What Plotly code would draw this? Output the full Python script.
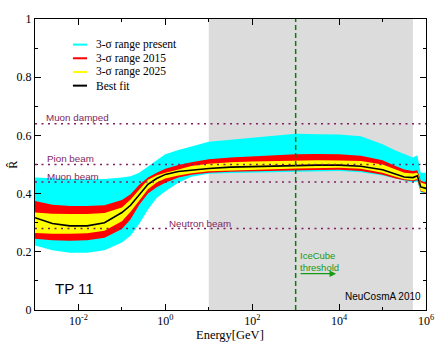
import numpy as np
import plotly.graph_objects as go

# ---- data ------------------------------------------------------------------
LOG_E = [-3, -2.6, -2.2, -1.8, -1.4, -1.0, -0.8, -0.6, -0.4, -0.2, 0, 0.3, 0.6,
         1.0, 1.5, 2, 2.5, 3, 3.5, 4, 4.5, 5, 5.3, 5.5, 5.7, 5.8, 5.88, 6]

CYAN_HI = [0.455, 0.452, 0.450, 0.449, 0.450, 0.455, 0.460, 0.472, 0.495, 0.515,
           0.535, 0.550, 0.562, 0.578, 0.585, 0.592, 0.600, 0.606, 0.604, 0.603,
           0.597, 0.570, 0.548, 0.535, 0.524, 0.532, 0.472, 0.472]
CYAN_LO = [0.222, 0.205, 0.197, 0.197, 0.205, 0.232, 0.255, 0.296, 0.345, 0.385,
           0.408, 0.437, 0.458, 0.468, 0.471, 0.472, 0.474, 0.475, 0.477, 0.478,
           0.473, 0.462, 0.452, 0.444, 0.438, 0.442, 0.404, 0.400]
RED_HI = [0.375, 0.362, 0.357, 0.357, 0.360, 0.378, 0.398, 0.430, 0.455, 0.472,
          0.485, 0.498, 0.508, 0.518, 0.524, 0.528, 0.532, 0.535, 0.536, 0.535,
          0.530, 0.515, 0.495, 0.483, 0.478, 0.480, 0.444, 0.438]
RED_LO = [0.245, 0.240, 0.238, 0.240, 0.248, 0.278, 0.312, 0.362, 0.400, 0.422,
          0.437, 0.455, 0.465, 0.472, 0.475, 0.477, 0.479, 0.480, 0.481, 0.482,
          0.478, 0.465, 0.452, 0.446, 0.443, 0.446, 0.407, 0.402]
YEL_HI = [0.335, 0.331, 0.330, 0.330, 0.333, 0.352, 0.380, 0.415, 0.448, 0.462,
          0.472, 0.483, 0.495, 0.503, 0.508, 0.510, 0.512, 0.514, 0.515, 0.514,
          0.512, 0.500, 0.483, 0.472, 0.469, 0.472, 0.438, 0.432]
YEL_LO = [0.265, 0.262, 0.262, 0.264, 0.272, 0.305, 0.338, 0.378, 0.415, 0.438,
          0.452, 0.462, 0.470, 0.477, 0.480, 0.482, 0.484, 0.486, 0.488, 0.489,
          0.485, 0.472, 0.458, 0.449, 0.446, 0.450, 0.410, 0.404]
BEST = [0.317, 0.297, 0.289, 0.289, 0.300, 0.335, 0.360, 0.395, 0.432, 0.452,
        0.466, 0.476, 0.481, 0.486, 0.491, 0.493, 0.495, 0.497, 0.498, 0.498,
        0.494, 0.482, 0.468, 0.457, 0.455, 0.461, 0.423, 0.418]

REF_NAMES = ["Muon damped", "Pion beam", "Muon beam", "Neutron beam"]
REF_VALUES = [0.64, 0.5, 0.44, 0.28]

GRAY_BAND = (10, 5e5)          # GeV
ICECUBE_THRESHOLD = 1e3        # GeV

LEGEND_NAMES = ["3-σ range present", "3-σ range 2015", "3-σ range 2025", "Best fit"]
LEGEND_COLORS = ["#00ffff", "#ff0000", "#ffff00", "#000000"]

X_MAJOR = [1e-2, 1e0, 1e2, 1e4, 1e6]
X_MAJOR_TEXT = ["10<sup>-2</sup>", "10<sup>0</sup>", "10<sup>2</sup>",
                "10<sup>4</sup>", "10<sup>6</sup>"]
X_MINOR = [1e-3, 1e-1, 1e1, 1e3, 1e5]

SERIF = "Liberation Serif, Times New Roman, serif"
SANS = "Liberation Sans, Arial, sans-serif"
PURPLE = "#7f1f5f"
GREEN = "#159a15"

energy = 10 ** np.array(LOG_E)

fig = go.Figure()

# bands: lower edge (no fill) then upper edge filled down to it
for lo, hi, color in [(CYAN_LO, CYAN_HI, "#00ffff"),
                      (RED_LO, RED_HI, "#ff0000"),
                      (YEL_LO, YEL_HI, "#ffff00")]:
    fig.add_trace(go.Scatter(x=energy, y=lo, mode="lines", line=dict(width=0, color=color),
                             showlegend=False, hoverinfo="skip"))
    fig.add_trace(go.Scatter(x=energy, y=hi, mode="lines", line=dict(width=0, color=color),
                             fill="tonexty", fillcolor=color, showlegend=False,
                             hoverinfo="skip"))

fig.add_trace(go.Scatter(x=energy, y=BEST, mode="lines",
                         line=dict(color="black", width=1.6), showlegend=False))

shapes = [
    dict(type="rect", xref="x", yref="y", x0=GRAY_BAND[0], x1=GRAY_BAND[1],
         y0=0, y1=1, fillcolor="#dcdcdc", line=dict(width=0), layer="below"),
    dict(type="line", xref="x", yref="y", x0=ICECUBE_THRESHOLD, x1=ICECUBE_THRESHOLD,
         y0=0, y1=1, line=dict(color="#0a7a0a", width=1.5, dash="5px,3px"),
         layer="above"),
]
for v in REF_VALUES:
    shapes.append(dict(type="line", xref="paper", yref="y", x0=0, x1=1, y0=v, y1=v,
                       line=dict(color=PURPLE, width=1.6, dash="2px,4.5px"),
                       layer="above"))

# hand-made legend
leg_y = [0.912, 0.865, 0.818, 0.771]
annotations = []
for name, color, yy in zip(LEGEND_NAMES, LEGEND_COLORS, leg_y):
    shapes.append(dict(type="line", xref="paper", yref="paper", x0=0.097, x1=0.133,
                       y0=yy, y1=yy, line=dict(color=color, width=2)))
    annotations.append(dict(xref="paper", yref="paper", x=0.150, y=yy, text=name,
                            showarrow=False, xanchor="left", yanchor="middle",
                            font=dict(family=SERIF, size=11.5, color="black")))

label_pos = [(0.024, 0.663), (0.025, 0.521), (0.025, 0.458), (0.338, 0.296)]
for name, (xx, yy) in zip(REF_NAMES, label_pos):
    annotations.append(dict(xref="paper", yref="y", x=xx, y=yy, text=name,
                            showarrow=False, xanchor="left", yanchor="middle",
                            font=dict(family=SANS, size=9.8, color=PURPLE)))

annotations += [
    dict(xref="paper", yref="y", x=0.046, y=0.074, text="TP 11", showarrow=False,
         xanchor="left", yanchor="middle", font=dict(family=SANS, size=15, color="black")),
    dict(xref="paper", yref="y", x=0.993, y=0.048, text="NeuCosmA 2010", showarrow=False,
         xanchor="right", yanchor="middle", font=dict(family=SANS, size=10, color="black")),
    dict(xref="paper", yref="y", x=0.672, y=0.167, text="IceCube<br>threshold",
         showarrow=False, xanchor="left", yanchor="middle", align="left",
         font=dict(family=SANS, size=9.5, color=GREEN)),
    dict(xref="paper", yref="y", x=0.770, y=0.125, text="", showarrow=True,
         ax=-37, ay=0, arrowhead=2, arrowsize=1, arrowwidth=1.3, arrowcolor=GREEN),
    dict(xref="paper", yref="paper", x=0.4987, y=-0.085, text="Energy[GeV]",
         showarrow=False, xanchor="center", yanchor="middle",
         font=dict(family=SERIF, size=12.5, color="black")),
    dict(xref="paper", yref="paper", x=-0.058, y=0.5, text="R\u0302", textangle=-90,
         showarrow=False, xanchor="center", yanchor="middle",
         font=dict(family=SERIF, size=12, color="black")),
]

fig.update_layout(
    width=446, height=345,
    margin=dict(l=35, r=17, t=17, b=35),
    paper_bgcolor="white", plot_bgcolor="white",
    shapes=shapes, annotations=annotations,
    showlegend=False,
    font=dict(family=SERIF, size=12, color="black"),
)

fig.update_xaxes(
    type="log", range=[-3, 6], showgrid=False, zeroline=False,
    showline=True, linecolor="black", linewidth=1, mirror="ticks",
    ticks="inside", ticklen=6, tickcolor="black",
    tickvals=X_MAJOR, ticktext=X_MAJOR_TEXT,
    minor=dict(tickvals=X_MINOR, ticks="inside", ticklen=3, tickcolor="black"),
    tickfont=dict(family=SERIF, size=12),
)
fig.update_yaxes(
    range=[0, 1], showgrid=False, zeroline=False,
    showline=True, linecolor="black", linewidth=1, mirror="ticks",
    ticks="inside", ticklen=6, tickcolor="black",
    tickvals=[0, 0.2, 0.4, 0.6, 0.8, 1], ticktext=["0", "0.2", "0.4", "0.6", "0.8", "1"],
    minor=dict(tickvals=[0.1, 0.3, 0.5, 0.7, 0.9], ticks="inside", ticklen=3,
               tickcolor="black"),
    tickfont=dict(family=SERIF, size=12),
)

fig.write_html("out.html", config={"displayModeBar": False},
               post_script="document.body.style.margin='0';")
